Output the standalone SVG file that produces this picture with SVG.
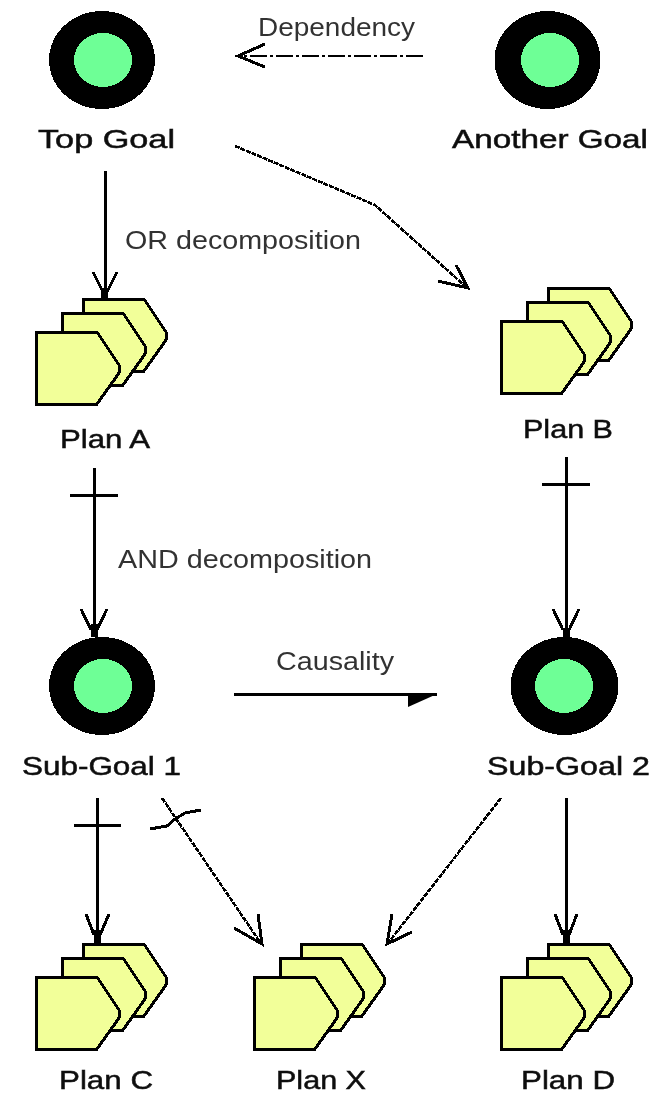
<svg xmlns="http://www.w3.org/2000/svg" width="651" height="1096" viewBox="0 0 651 1096">
<style>
.bg{fill:#fff}
.outer{fill:#000;shape-rendering:crispEdges}
.inner{fill:#6eff96;shape-rendering:crispEdges}
.pl{fill:#f2ff99;stroke:#000;stroke-width:3;shape-rendering:crispEdges}
text{font-family:"Liberation Sans",Arial,sans-serif;font-size:26px;text-anchor:start;filter:url(#soft)}
.nl{fill:#111;stroke:#111;stroke-width:.5}
.el{fill:#333}
.c{fill:none;stroke:#000;stroke-width:3;shape-rendering:crispEdges}
.s{fill:none;stroke:#000;stroke-width:7;shape-rendering:crispEdges}
.d{fill:none;stroke:#000;stroke-width:2.6;stroke-dasharray:5 1;shape-rendering:crispEdges}
.dd{fill:none;stroke:#000;stroke-width:2.4;stroke-dasharray:17 3 3 3;shape-rendering:crispEdges}
</style>
<defs>
<filter id="soft" x="-5%" y="-20%" width="110%" height="140%"><feGaussianBlur stdDeviation="0.55"/></filter>
<polygon id="p" class="pl" points="0,0 61,0 83,33 83,41 61,72 0,72"/>
<g id="plan"><use href="#p" x="47" y="-33"/><use href="#p" x="26" y="-19"/><use href="#p"/></g>
</defs>
<rect class="bg" width="651" height="1096"/>
<g id="connectors">
<path class="dd" d="M423,56H240"/>
<path class="c" d="M265,44L238,56L265,67"/>
<path class="c" d="M105,171V298"/>
<path class="c" d="M93,272L103,292M117,272L107,292"/>
<path class="s" d="M104,288V298"/>
<path class="d" d="M235,146L375,205L466,287"/>
<path class="c" d="M456,265L468,288L438,281"/>
<path class="c" d="M94,468V637"/>
<path class="c" d="M70,495H118"/>
<path class="c" d="M81,609L91,630M107,609L97,630"/>
<path class="s" d="M94,624V637"/>
<path class="c" d="M566,457V637"/>
<path class="c" d="M542,484H590"/>
<path class="c" d="M553,609L563,630M579,609L569,630"/>
<path class="s" d="M566,628V637"/>
<path class="c" d="M234,694H437"/>
<polygon points="408,694 437,694 408,707" fill="#000"/>
<path class="c" d="M97,798V944"/>
<path class="c" d="M74,825H121"/>
<path class="c" d="M86,914L94,935M109,914L100,935"/>
<path class="s" d="M97,930V944"/>
<path class="d" d="M162,798L260,942"/>
<path class="c" d="M150,829L167,826L175,819L185,813L201,810"/>
<path class="c" d="M258,914L262,944L234,928"/>
<path class="d" d="M501,798L389,942"/>
<path class="c" d="M392,914L387,944L412,932"/>
<path class="c" d="M566,798V944"/>
<path class="c" d="M555,914L563,935M577,914L569,935"/>
<path class="s" d="M566,930V944"/>
</g>
<g id="top-goal"><ellipse class="outer" cx="102" cy="60" rx="53" ry="49"/><ellipse class="inner" cx="103" cy="60" rx="29" ry="27"/><text class="nl" x="38" y="148" textLength="137" lengthAdjust="spacingAndGlyphs">Top Goal</text></g>
<g id="another-goal"><ellipse class="outer" cx="547.500" cy="60" rx="53" ry="49"/><ellipse class="inner" cx="550" cy="60" rx="29" ry="27"/><text class="nl" x="452" y="148" textLength="196" lengthAdjust="spacingAndGlyphs">Another Goal</text></g>
<g id="plan-a"><use href="#plan" x="36" y="332"/><text class="nl" x="60" y="448" textLength="90" lengthAdjust="spacingAndGlyphs">Plan A</text></g>
<g id="plan-b"><use href="#plan" x="501" y="321"/><text class="nl" x="523" y="438" textLength="90" lengthAdjust="spacingAndGlyphs">Plan B</text></g>
<g id="sub-goal-1"><ellipse class="outer" cx="102" cy="686" rx="53" ry="49"/><ellipse class="inner" cx="103" cy="686" rx="29" ry="27"/><text class="nl" x="22" y="775" textLength="159" lengthAdjust="spacingAndGlyphs">Sub-Goal 1</text></g>
<g id="sub-goal-2"><ellipse class="outer" cx="564.500" cy="686" rx="54" ry="49"/><ellipse class="inner" cx="564" cy="686" rx="29" ry="27"/><text class="nl" x="487" y="775" textLength="163" lengthAdjust="spacingAndGlyphs">Sub-Goal 2</text></g>
<g id="plan-c"><use href="#plan" x="36" y="977"/><text class="nl" x="59" y="1089" textLength="94" lengthAdjust="spacingAndGlyphs">Plan C</text></g>
<g id="plan-x"><use href="#plan" x="254" y="977"/><text class="nl" x="276" y="1089" textLength="90" lengthAdjust="spacingAndGlyphs">Plan X</text></g>
<g id="plan-d"><use href="#plan" x="501" y="977"/><text class="nl" x="521" y="1089" textLength="94" lengthAdjust="spacingAndGlyphs">Plan D</text></g>
<g id="labels">
<text class="el" x="258" y="36" textLength="157" lengthAdjust="spacingAndGlyphs">Dependency</text>
<text class="el" x="125" y="249" textLength="236" lengthAdjust="spacingAndGlyphs">OR decomposition</text>
<text class="el" x="118" y="568" textLength="254" lengthAdjust="spacingAndGlyphs">AND decomposition</text>
<text class="el" x="276" y="670" textLength="118" lengthAdjust="spacingAndGlyphs">Causality</text>
</g>
</svg>
